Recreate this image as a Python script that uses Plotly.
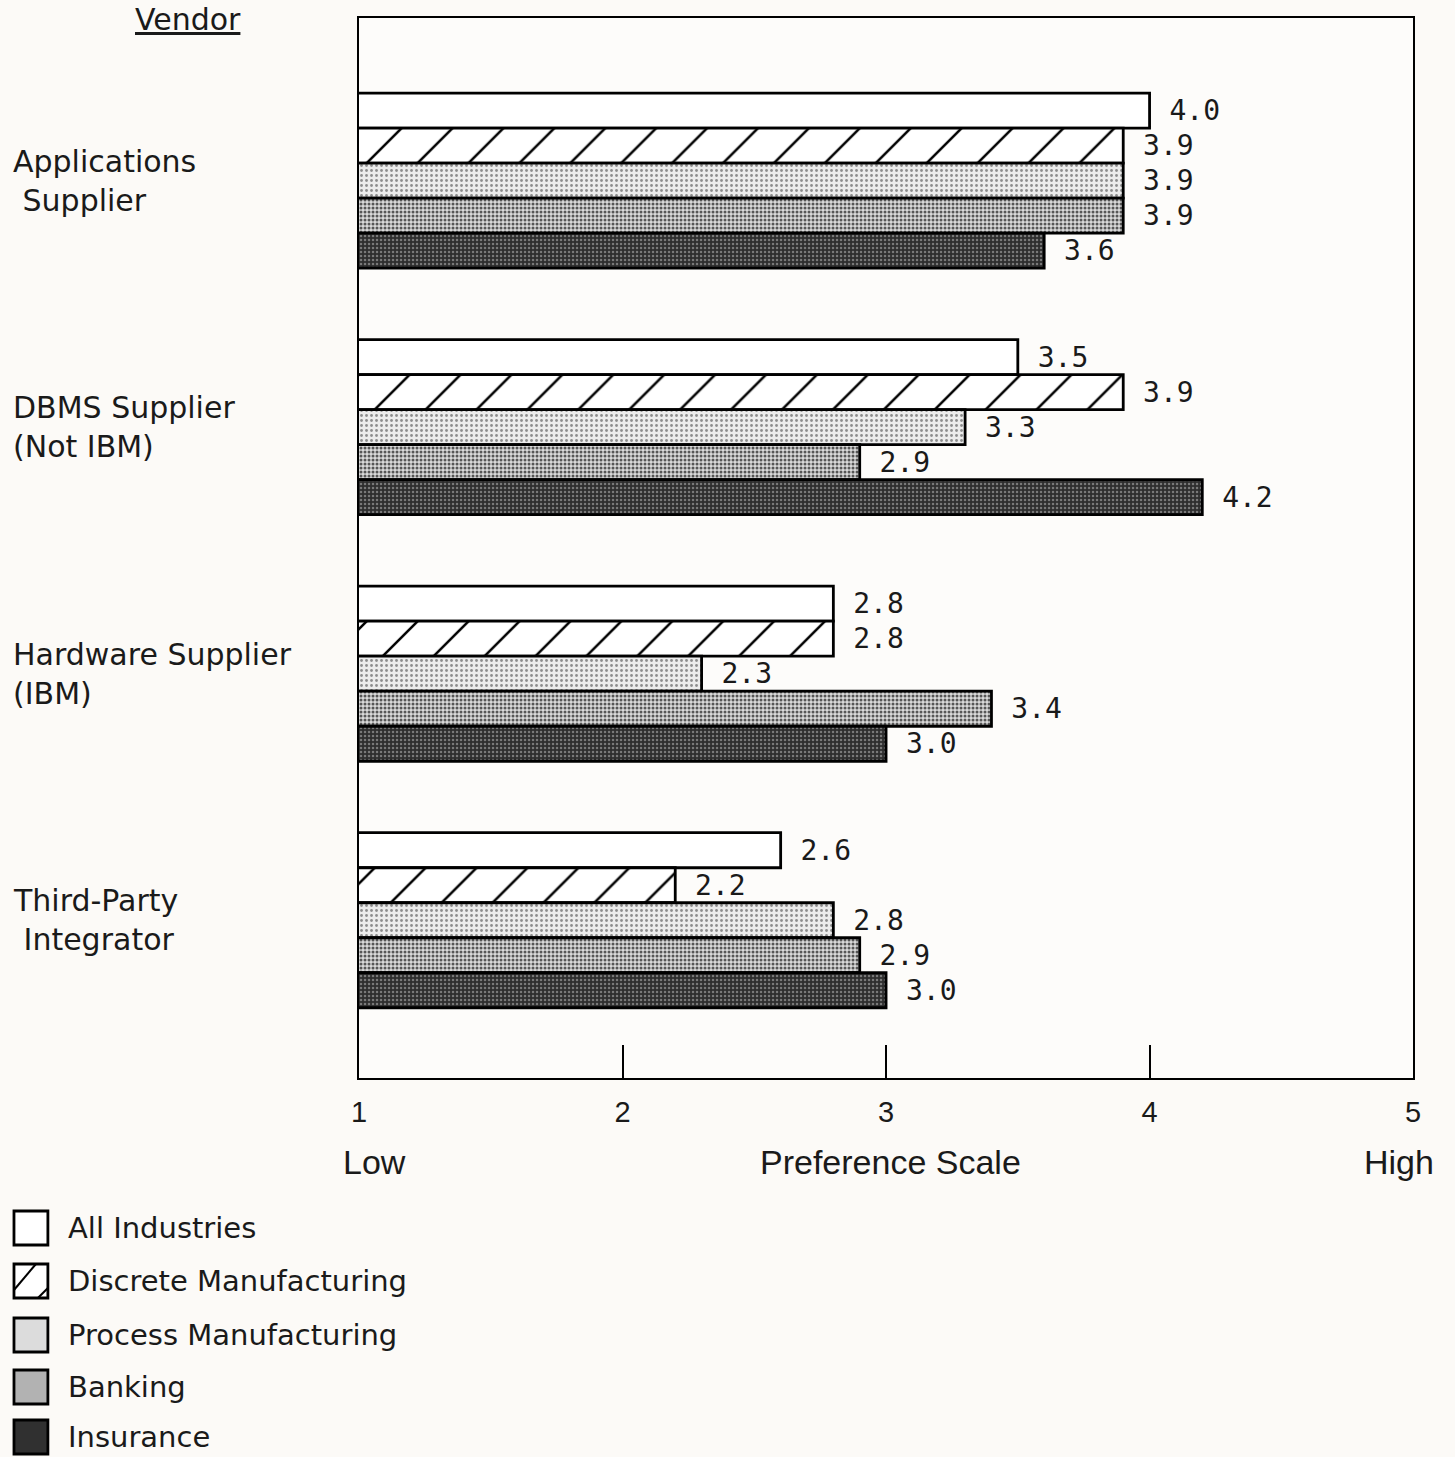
import plotly.graph_objects as go

W, H = 1455, 1457

vendors = ["Applications Supplier", "DBMS Supplier (Not IBM)",
           "Hardware Supplier (IBM)", "Third-Party Integrator"]
vendor_labels = ["Applications<br>\u00a0Supplier", "DBMS Supplier<br>(Not IBM)",
                 "Hardware Supplier<br>(IBM)", "Third-Party<br>\u00a0Integrator"]
series = ["All Industries", "Discrete Manufacturing", "Process Manufacturing",
          "Banking", "Insurance"]
all_industries = [4.0, 3.5, 2.8, 2.6]
discrete_mfg = [3.9, 3.9, 2.8, 2.2]
process_mfg = [3.9, 3.3, 2.3, 2.8]
banking = [3.9, 2.9, 3.4, 2.9]
insurance = [3.6, 4.2, 3.0, 3.0]
x_ticks = [1, 2, 3, 4, 5]

values = [all_industries, discrete_mfg, process_mfg, banking, insurance]

patterns = [
    dict(shape="", bgcolor="white"),
    dict(shape="/", bgcolor="white", fgcolor="black", size=36, solidity=0.07, fillmode="replace"),
    dict(shape=".", bgcolor="#ececec", fgcolor="#8c8c8c", size=5, solidity=0.25, fillmode="replace"),
    dict(shape=".", bgcolor="#dadada", fgcolor="#555555", size=4, solidity=0.45, fillmode="replace"),
    dict(shape=".", bgcolor="#2e2e2e", fgcolor="#7a7a7a", size=4, solidity=0.3, fillmode="replace"),
]
legend_fill = ["white", "white", "#dcdcdc", "#b2b2b2", "#303030"]

TXT = "#1a1a1a"
SANS = "DejaVu Sans"


def px(x):
    return (x - 6) / (W - 12)


def py(y):
    return 1 - y / H


fig = go.Figure()
for name, vals, pat in zip(series, values, patterns):
    fig.add_trace(go.Bar(
        y=vendors, x=vals, name=name, orientation="h",
        marker=dict(color="white", pattern=pat, line=dict(color="black", width=2.8)),
        texttemplate="\u00a0%{x:.1f}", textposition="outside", constraintext="none",
        textfont=dict(family="DejaVu Sans Mono", size=28, color=TXT),
        cliponaxis=False, showlegend=False,
    ))

annotations = []
shapes = []
for v, lbl in zip(vendors, vendor_labels):
    annotations.append(dict(x=px(9), xref="paper", y=v, yref="y", text=lbl,
                            xanchor="left", yanchor="middle", align="left", showarrow=False,
                            font=dict(family=SANS, size=30, color=TXT)))

annotations.append(dict(x=px(186), y=py(19), xref="paper", yref="paper", text="<u>Vendor</u>",
                        showarrow=False, xanchor="center", yanchor="middle",
                        font=dict(family=SANS, size=30, color=TXT)))
for txt, xx in [("Low", 374), ("Preference Scale", 891), ("High", 1401)]:
    annotations.append(dict(x=px(xx), y=py(1162), xref="paper", yref="paper", text=txt,
                            showarrow=False, xanchor="center", yanchor="middle",
                            font=dict(family="Liberation Sans", size=34, color=TXT)))

row_y = [1228, 1281, 1335, 1387, 1437]
for i, (name, fill) in enumerate(zip(series, legend_fill)):
    yc = row_y[i]
    x0, x1 = 12, 46
    y0, y1 = yc - 17, yc + 17
    shapes.append(dict(type="rect", xref="paper", yref="paper",
                       x0=px(x0), x1=px(x1), y0=py(y1), y1=py(y0),
                       fillcolor=fill, line=dict(color="black", width=2.8)))
    if i == 1:
        shapes.append(dict(type="line", xref="paper", yref="paper",
                           x0=px(x0), y0=py(y1 - 8), x1=px(x0 + 22), y1=py(y0),
                           line=dict(color="black", width=2)))
        shapes.append(dict(type="line", xref="paper", yref="paper",
                           x0=px(x1 - 10), y0=py(y1), x1=px(x1), y1=py(y1 - 10),
                           line=dict(color="black", width=2)))
    annotations.append(dict(x=px(64), y=py(yc), xref="paper", yref="paper", text=name,
                            showarrow=False, xanchor="left", yanchor="middle",
                            font=dict(family=SANS, size=29, color=TXT)))

fig.update_layout(
    width=W, height=H,
    margin=dict(l=0, r=0, t=0, b=0),
    paper_bgcolor="#fcfaf7", plot_bgcolor="#fdfcfa",
    barmode="group", bargap=0.29, bargroupgap=0,
    showlegend=False,
    annotations=annotations, shapes=shapes,
    xaxis=dict(domain=[px(358), px(1415)], range=[1, 5], tickvals=x_ticks,
               ticks="inside", ticklen=33, tickwidth=2, tickcolor="black",
               showline=True, mirror=True, linewidth=2, linecolor="black",
               showgrid=False, zeroline=False, ticklabelstandoff=7,
               tickfont=dict(family="Liberation Sans Narrow, Liberation Sans", size=29, color=TXT)),
    yaxis=dict(domain=[py(1078), py(18)], range=[3.64, -0.66], type="category",
               showticklabels=False, ticks="", showgrid=False, zeroline=False,
               showline=True, mirror=True, linewidth=2, linecolor="black"),
)

fig.write_html("out.html")
